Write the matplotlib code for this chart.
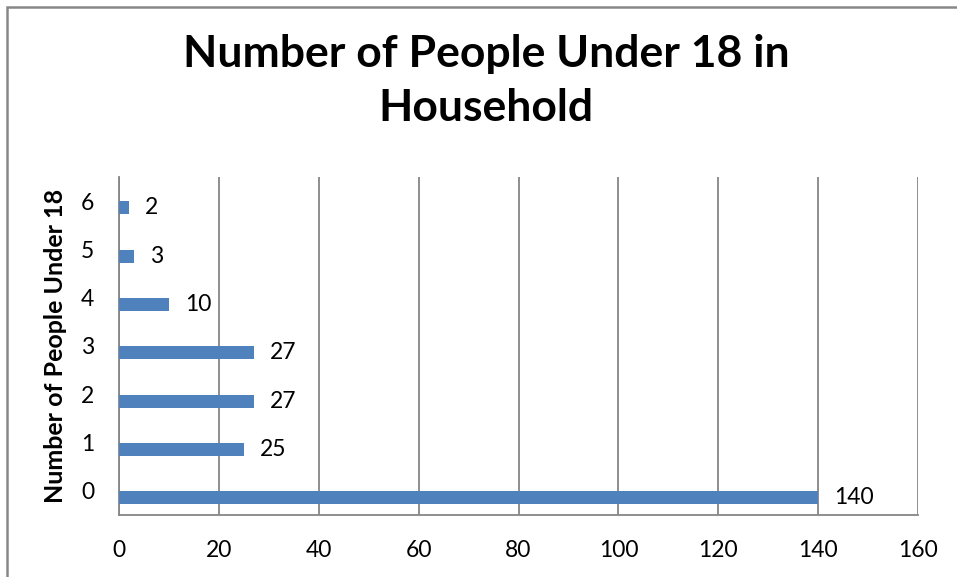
import matplotlib.pyplot as plt
from matplotlib.patches import Rectangle

# Household survey counts
people_under_18 = [0, 1, 2, 3, 4, 5, 6]
households = [140, 25, 27, 27, 10, 3, 2]
x_ticks = [0, 20, 40, 60, 80, 100, 120, 140, 160]

bar_color = '#4F81BD'
grid_color = '#868686'

plt.rcParams['font.family'] = ['Lato', 'DejaVu Sans']

fig = plt.figure(figsize=(9.57, 5.77), dpi=100)
ax = fig.add_axes([119 / 957, 1 - 515 / 577, 799 / 957, 338 / 577])

# bars sit a little below each category centre, as in a clustered layout
offset = 0.14
ax.barh([p - offset for p in people_under_18], households, height=0.27,
        color=bar_color, zorder=3)
for p, v in zip(people_under_18, households):
    ax.annotate(str(v), (v, p - offset), xytext=(16, 0), textcoords='offset pixels',
                va='center', ha='left', fontsize=16.5, color='black')

ax.set_xlim(0, 160)
ax.set_ylim(-0.5, 6.5)
ax.set_xticks(x_ticks)
ax.set_yticks(people_under_18)
ax.tick_params(axis='both', length=0, labelsize=16.5)
ax.tick_params(axis='x', pad=18)
ax.tick_params(axis='y', pad=18)
ax.xaxis.grid(True, color=grid_color, linewidth=1.3, zorder=0)
for side in ['top', 'right']:
    ax.spines[side].set_visible(False)
for side in ['left', 'bottom']:
    ax.spines[side].set_color(grid_color)
    ax.spines[side].set_linewidth(1.3)

ax.set_ylabel('Number of People Under 18', fontsize=18, fontweight='bold')
ax.yaxis.set_label_coords(-52 / 799, 0.5)

# two-line title, one baseline per line
title_lines = ['Number of People Under 18 in', 'Household']
for line, base in zip(title_lines, [67, 121]):
    fig.text(486 / 957, 1 - base / 577, line, ha='center', va='baseline',
             fontsize=32, fontweight='bold')

# chart frame
fig.patches.append(Rectangle((6.5 / 957, -0.1), 1.2, 1 - 6.5 / 577 + 0.1,
                             transform=fig.transFigure, fill=False,
                             edgecolor='#888888', linewidth=1.8))

fig.savefig('out.png', dpi=100)
